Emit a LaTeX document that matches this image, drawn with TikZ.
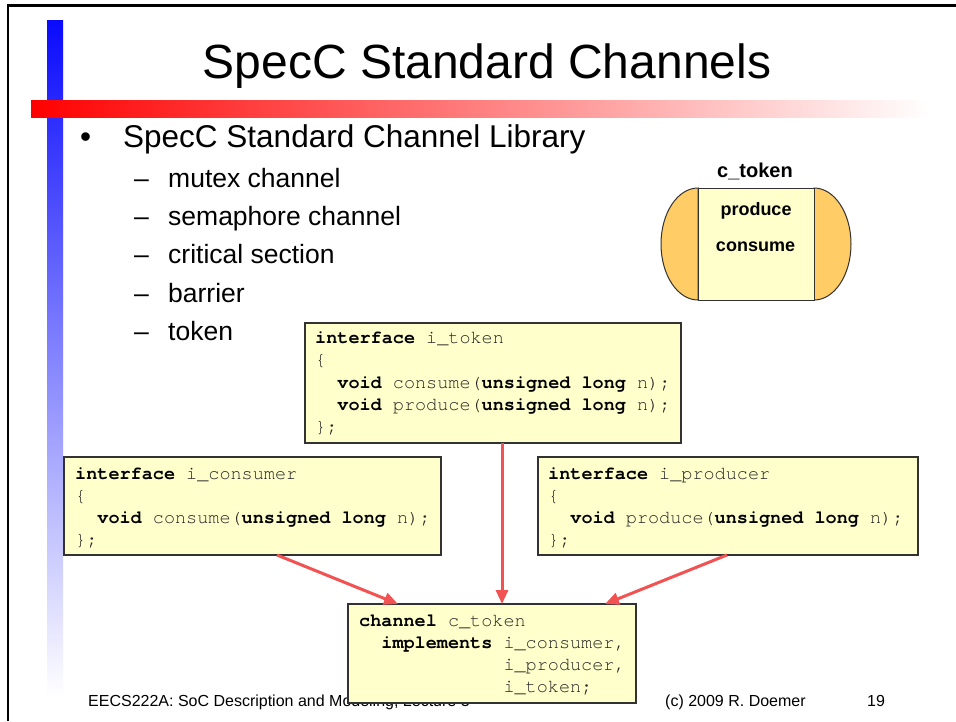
\documentclass[tikz,border=0pt]{standalone}
\usepackage{fontspec}
\setmainfont{Liberation Sans}
\setmonofont{TeX Gyre Cursor}
\usetikzlibrary{arrows.meta,calc}
\definecolor{codefill}{RGB}{255,255,204}
\definecolor{tokorange}{RGB}{255,204,102}
\definecolor{arrowred}{RGB}{242,82,82}
\definecolor{codegray}{RGB}{35,35,35}
\definecolor{boxedge}{RGB}{50,50,50}
\definecolor{barblue}{RGB}{10,10,255}
\definecolor{bluemid}{RGB}{165,165,255}
\definecolor{redmid}{RGB}{255,175,175}
\newcommand\kw[1]{\textbf{\color{black}#1}}
\newcommand\codefont{\ttfamily\fontsize{18.5}{22}\selectfont}
\begin{document}
\begin{tikzpicture}[x=1pt,y=-1pt,
  codebox/.style={draw=boxedge, line width=1.2pt, fill=codefill, anchor=north west, inner sep=0pt, outer sep=0pt},
  codeline/.style={anchor=base west, inner sep=0pt, font=\codefont, text=codegray},
  link/.style={draw=arrowred, line width=3pt, -{Triangle[length=14pt,width=12pt]}},
  sub/.style={anchor=base west, inner sep=0pt, font=\fontsize{26.5}{30}\selectfont},
  dashmark/.style={anchor=base west, inner sep=0pt, font=\fontsize{26.5}{30}\selectfont},
  foot/.style={anchor=base west, inner sep=0pt, font=\fontsize{16}{19}\selectfont},
  toklabel/.style={anchor=base, inner sep=0pt, font=\bfseries\fontsize{18}{22}\selectfont}]
\useasboundingbox (0,0) rectangle (956,721);
\fill[white] (0,0) rectangle (956,721);
% decorative bars
\shade[top color=barblue, middle color=bluemid, bottom color=white] (47,20) rectangle (63,697);
\shade[left color=red, middle color=redmid, right color=white] (31,100) rectangle (930,117);
% frame
\draw[line width=2.5pt, black] (8,721) -- (8,5.5) -- (956,5.5);
% title
\node[anchor=base, inner sep=0pt, font=\fontsize{48}{56}\selectfont] (title) at (487,78) {SpecC Standard Channels};
% bullets
\node[anchor=base west, inner sep=0pt, font=\fontsize{31.5}{36}\selectfont] (bul) at (80,147) {•};
\node[anchor=base west, inner sep=0pt, font=\fontsize{31.5}{36}\selectfont] (lib) at (123,147) {SpecC Standard Channel Library};
\node[dashmark] (d1) at (134,187) {–};
\node[sub] (s1) at (168,187) {mutex channel};
\node[dashmark] (d2) at (134,225.3) {–};
\node[sub] (s2) at (168,225.3) {semaphore channel};
\node[dashmark] (d3) at (134,263.6) {–};
\node[sub] (s3) at (168,263.6) {critical section};
\node[dashmark] (d4) at (134,302) {–};
\node[sub] (s4) at (168,302) {barrier};
\node[dashmark] (d5) at (134,340) {–};
\node[sub] (s5) at (168,340) {token};
% c_token symbol
\draw[boxedge, line width=1pt, fill=tokorange] (698,188) arc[start angle=270, end angle=90, x radius=37, y radius=56] -- cycle;
\draw[boxedge, line width=1pt, fill=tokorange] (814,188) arc[start angle=270, end angle=450, x radius=37, y radius=56] -- cycle;
\node[draw=boxedge, line width=1pt, fill=codefill, anchor=north west, inner sep=0pt, minimum width=116pt, minimum height=112pt] (ctok) at (698,188) {};
\node[anchor=base, inner sep=0pt, font=\bfseries\fontsize{20}{24}\selectfont] (ctoktitle) at (755,177) {c\_token};
\node[toklabel] (prod) at (756,215.5) {produce};
\node[toklabel] (cons) at (755.5,251) {consume};
% footer
\node[foot] (f1) at (88,706) {EECS222A: SoC Description and Modeling, Lecture 3};
\node[foot] (f2) at (665,706) {(c) 2009 R. Doemer};
\node[foot] (f3) at (867,706) {19};
% i_token
\node[codebox, minimum width=376pt, minimum height=120pt] (itok) at (305,323) {};
\node[codeline] (t1) at (315,343) {\kw{interface} i\_token};
\node[codeline] (t2) at (315,365) {\{};
\node[codeline] (t3) at (337.2,388) {\kw{void} consume(\kw{unsigned long} n);};
\node[codeline] (t4) at (337.2,410) {\kw{void} produce(\kw{unsigned long} n);};
\node[codeline] (t5) at (315,432) {\};};
% i_consumer
\node[codebox, minimum width=377pt, minimum height=98pt] (icons) at (64,457) {};
\node[codeline] (c1) at (75,479) {\kw{interface} i\_consumer};
\node[codeline] (c2) at (75,501) {\{};
\node[codeline] (c3) at (97.2,523) {\kw{void} consume(\kw{unsigned long} n);};
\node[codeline] (c4) at (75,545) {\};};
% i_producer
\node[codebox, minimum width=380pt, minimum height=98pt] (iprod) at (538,457) {};
\node[codeline] (p1) at (548,479) {\kw{interface} i\_producer};
\node[codeline] (p2) at (548,501) {\{};
\node[codeline] (p3) at (570.2,523) {\kw{void} produce(\kw{unsigned long} n);};
\node[codeline] (p4) at (548,545) {\};};
% channel c_token
\node[codebox, minimum width=288pt, minimum height=99pt] (chan) at (348,604) {};
\node[codeline] (h1) at (359,626) {\kw{channel} c\_token};
\node[codeline] (h2) at (381.2,648) {\kw{implements} i\_consumer,};
\node[codeline] (h3) at (503.3,670) {i\_producer,};
\node[codeline] (h4) at (503.3,692) {i\_token;};
% connectors
\draw[link] ([xshift=213pt]icons.south west) -- ([xshift=50pt]chan.north west);
\draw[link] ([xshift=197pt]itok.south west) -- ([xshift=154pt]chan.north west);
\draw[link] ([xshift=189pt]iprod.south west) -- ([xshift=257pt]chan.north west);
\end{tikzpicture}
\end{document}
